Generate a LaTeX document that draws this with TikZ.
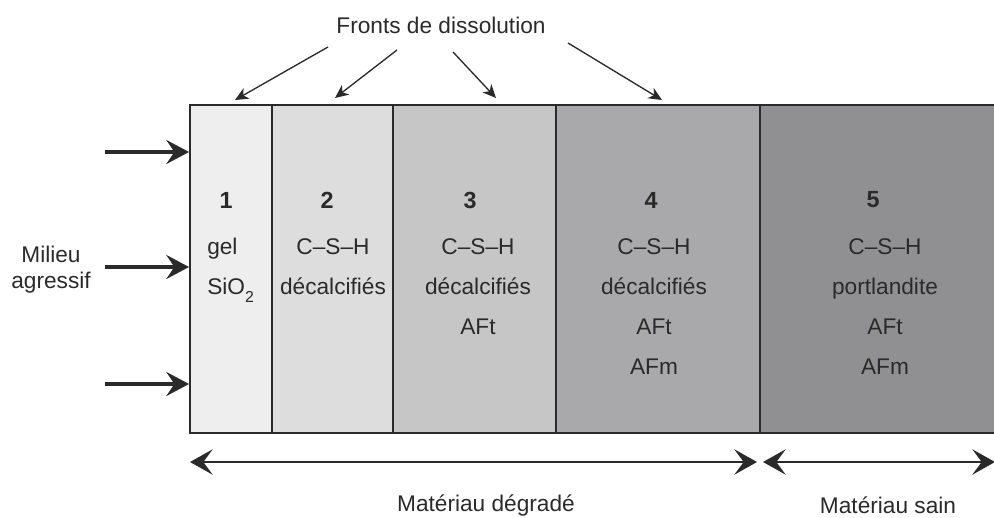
\documentclass[tikz,border=0pt]{standalone}
\usepackage{fontspec}
\setmainfont{Liberation Sans}
\usetikzlibrary{arrows.meta, positioning}

\definecolor{zoneA}{HTML}{EEEEEE}
\definecolor{zoneB}{HTML}{DDDDDD}
\definecolor{zoneC}{HTML}{C6C6C7}
\definecolor{zoneD}{HTML}{A9A9AB}
\definecolor{zoneE}{HTML}{909092}
\definecolor{ink}{HTML}{2A2A2A}

\begin{document}
\begin{tikzpicture}[x=0.75pt, y=-0.75pt,
    every node/.style={font=\fontsize{17}{30}\selectfont, text=ink},
    boxline/.style={line width=1.1pt, ink},
    front/.style={line width=1pt, ink, -{Stealth[length=10pt, width=9pt, inset=3pt]}},
    attack/.style={line width=2.4pt, ink, -{Stealth[length=17pt, width=18pt, inset=6pt]}},
    span/.style={line width=1.5pt, ink, {Stealth[length=17pt, width=19pt, inset=7pt]}-{Stealth[length=17pt, width=19pt, inset=7pt]}},
    num/.style={font=\fontsize{17.5}{20}\selectfont\bfseries},
    zonetext/.style={align=center, anchor=north, inner sep=0pt}]
    \useasboundingbox (0,0) rectangle (994,517);

    % Zones
    \fill[zoneA] (190,105) rectangle (272,433);
    \fill[zoneB] (272,105) rectangle (393,433);
    \fill[zoneC] (393,105) rectangle (556,433);
    \fill[zoneD] (556,105) rectangle (760,433);
    \fill[zoneE] (760,105) rectangle (994,433);

    % Borders
    \draw[boxline] (994,105) -- (190,105) -- (190,433) -- (994,433);
    \foreach \xb in {272, 393, 556, 760}
        \draw[boxline] (\xb,105) -- (\xb,433);

    % Zone contents
    \node[num] (n1) at (226,200) {1};
    \node[num] (n2) at (327,200) {2};
    \node[num] (n3) at (470,200) {3};
    \node[num] (n4) at (651,200) {4};
    \node[num] (n5) at (873,200) {5};

    \node[zonetext, align=left, anchor=north west] (t1) at (207,238) {gel\\SiO\raisebox{-0.35ex}{\textsubscript{2}}};
    \node[zonetext] (t2) at (333,238) {C–S–H\\décalcifiés};
    \node[zonetext] (t3) at (478,238) {C–S–H\\décalcifiés\\AFt};
    \node[zonetext] (t4) at (654,238) {C–S–H\\décalcifiés\\AFt\\AFm};
    \node[zonetext] (t5) at (885,238) {C–S–H\\portlandite\\AFt\\AFm};

    % Dissolution fronts
    \node (fronts) at (441,25) {Fronts de dissolution};
    \coordinate (s1) at (328,47);  \coordinate (e1) at (235,100);
    \coordinate (s2) at (397,50);  \coordinate (e2) at (335,98);
    \coordinate (s3) at (453,52);  \coordinate (e3) at (496,98);
    \coordinate (s4) at (568,43);  \coordinate (e4) at (662,100);
    \foreach \i in {1,...,4}
        \draw[front] (s\i) -- (e\i);

    % Aggressive environment
    \node[align=center, font=\fontsize{17}{19.5}\selectfont] (milieu) at (51,270) {Milieu\\agressif};
    \foreach \i/\yb in {1/152, 2/267, 3/384} {
        \coordinate (a\i) at (105,\yb);
        \coordinate (b\i) at (189,\yb);
        \draw[attack] (a\i) -- (b\i);
    }

    % Degraded / sound material
    \coordinate (d1) at (190,462);
    \coordinate (d2) at (757,462);
    \coordinate (d3) at (763,462);
    \coordinate (d4) at (995,462);
    \draw[span] (d1) -- (d2);
    \draw[span] (d3) -- (d4);
    \node (degrade) at (486,505) {Matériau dégradé};
    \node (sain) at (888,505) {Matériau sain};
\end{tikzpicture}
\end{document}
